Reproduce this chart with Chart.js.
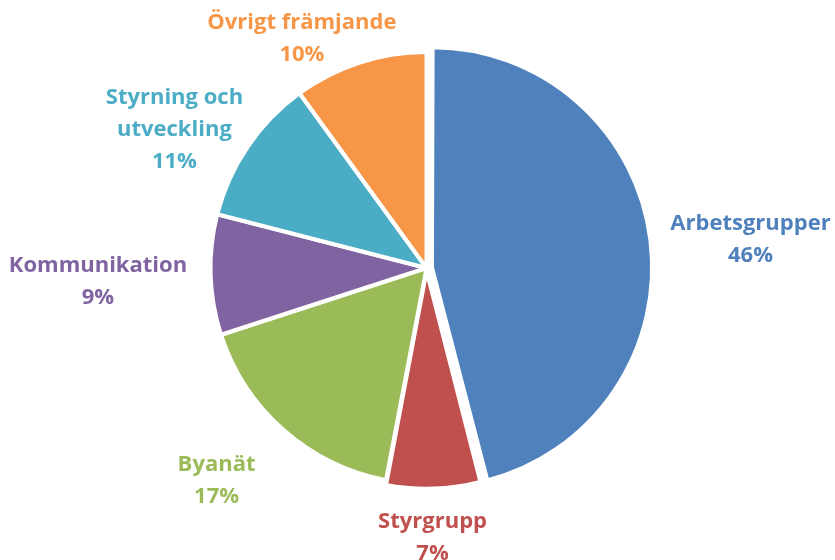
<!DOCTYPE html>
<html>
<head>
<meta charset="utf-8">
<script src="https://cdn.jsdelivr.net/npm/chart.js"></script>
<style>
  html, body { margin: 0; padding: 0; background: #fff; }
  #wrap { width: 835px; height: 560px; }
</style>
</head>
<body>
<div id="wrap"><canvas id="pie"></canvas></div>
<script>
// data
const categories = ['Arbetsgrupper', 'Styrgrupp', 'Byanät', 'Kommunikation', 'Styrning och utveckling', 'Övrigt främjande'];
const shares = [46, 7, 17, 9, 11, 10];
// label lines as they are broken in the picture
const labelLines = [['Arbetsgrupper'], ['Styrgrupp'], ['Byanät'], ['Kommunikation'], ['Styrning och', 'utveckling'], ['Övrigt främjande']];

const colors = ['#4F81BD', '#C0504D', '#9BBB59', '#8064A2', '#4BACC6', '#F79646'];
// label centre relative to pie centre, in radii
const labelPos = [[1.50, -0.144], [0.028, 1.237], [-0.972, 0.972], [-1.521, 0.051], [-1.167, -0.656], [-0.577, -1.074]];

const outsideLabels = {
    id: 'outsideLabels',
    afterDatasetsDraw(chart) {
        const ctx = chart.ctx;
        const meta = chart.getDatasetMeta(0);
        const cx = chart.chartArea.left + chart.chartArea.width / 2;
        const cy = chart.chartArea.top + chart.chartArea.height / 2;
        const r = meta.controller.outerRadius;
        ctx.save();
        ctx.font = 'bold 22px "Open Sans"';
        ctx.textAlign = 'center';
        ctx.textBaseline = 'middle';
        meta.data.forEach((arc, i) => {
            const x = cx + labelPos[i][0] * r;
            const y = cy + labelPos[i][1] * r + 3; // nudge: glyphs sit high on "middle"
            const lines = labelLines[i].concat([shares[i] + '%']);
            const lh = 32;
            const y0 = y - (lines.length - 1) * lh / 2;
            ctx.fillStyle = colors[i];
            lines.forEach((t, k) => ctx.fillText(t, x, y0 + k * lh));
        });
        ctx.restore();
    }
};

new Chart(document.getElementById('pie'), {
    type: 'pie',
    data: {
        labels: categories,
        datasets: [{
            data: shares,
            backgroundColor: colors,
            borderColor: '#ffffff',
            borderWidth: 4,
            offset: [22, 12, 0, 0, 0, 0]
        }]
    },
    options: {
        responsive: true,
        maintainAspectRatio: false,
        animation: false,
        layout: { padding: { top: 39, bottom: 63, left: 188, right: 170 } },
        plugins: {
            legend: { display: false },
            tooltip: { enabled: false }
        }
    },
    plugins: [outsideLabels]
});
</script>
</body>
</html>
